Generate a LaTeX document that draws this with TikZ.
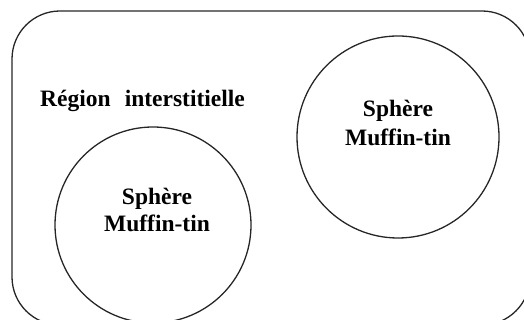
\documentclass[tikz,border=0pt]{standalone}
\usepackage{fontspec}
\setmainfont{Liberation Serif}
\begin{document}
\begin{tikzpicture}[x=1pt,y=1pt,
  outline/.style={draw=black!85,line width=1.3pt},
  label/.style={font=\bfseries\fontsize{23.5}{28}\selectfont,align=center,inner sep=0pt}]
\useasboundingbox (0,0) rectangle (524,320);
\clip (0,0) rectangle (524,320);
% cell boundary (extends past the lower and right edges)
\draw[outline,rounded corners=48pt] (12,-5) rectangle (530,309);
% muffin-tin spheres
\node[outline,circle,minimum size=196pt,inner sep=0pt] (s1) at (153,95) {};
\node[outline,circle,minimum size=202pt,inner sep=0pt] (s2) at (398,183) {};
\node[label,anchor=base] (t1) at (157,115) {Sphère};
\node[label,anchor=base] (t1b) at (157,88) {Muffin-tin};
\node[label,anchor=base] (t2) at (398,203) {Sphère};
\node[label,anchor=base] (t2b) at (398,174) {Muffin-tin};
% interstitial region label
\node[label,anchor=base west] (reg) at (40,213) {Région\hspace{0.6em}interstitielle};
\end{tikzpicture}
\end{document}
